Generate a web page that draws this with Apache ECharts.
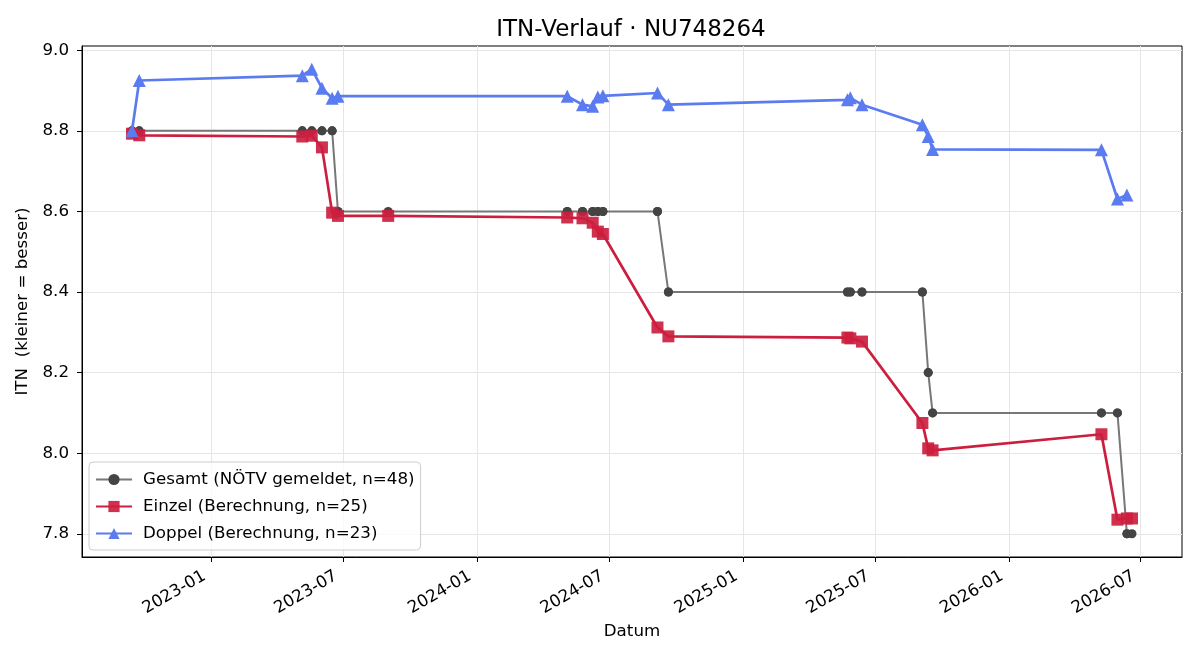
<!DOCTYPE html>
<html>
<head>
<meta charset="utf-8">
<title>ITN-Verlauf</title>
<script src="https://cdn.jsdelivr.net/npm/echarts@6/dist/echarts.min.js"></script>
<style>
    html, body { margin: 0; padding: 0; background: #fff; }
    #itn_chart { width: 1200px; height: 660px; }
</style>
</head>
<body>
<div id="itn_chart"></div>
<script>
let itn_chart = echarts.init(document.getElementById('itn_chart'));

let font = 'DejaVu Sans';

// Gesamt (NÖTV gemeldet)
let gesamt_dates = [
    '2022-09-14', '2022-09-14', '2022-09-24', '2022-09-24', '2023-05-06', '2023-05-06',
    '2023-05-19', '2023-05-19', '2023-06-02', '2023-06-02', '2023-06-16', '2023-06-16',
    '2023-06-24', '2023-06-24', '2023-09-01', '2024-05-04', '2024-05-04', '2024-05-25',
    '2024-05-25', '2024-06-08', '2024-06-08', '2024-06-15', '2024-06-15', '2024-06-22',
    '2024-06-22', '2024-09-05', '2024-09-05', '2024-09-20', '2024-09-20', '2025-05-24',
    '2025-05-24', '2025-05-28', '2025-05-28', '2025-06-13', '2025-06-13', '2025-09-04',
    '2025-09-04', '2025-09-12', '2025-09-12', '2025-09-18', '2025-09-18', '2026-05-08',
    '2026-05-08', '2026-05-30', '2026-05-30', '2026-06-12', '2026-06-12', '2026-06-19'
];
let gesamt_values = [
    8.8, 8.8, 8.8, 8.8, 8.8, 8.8,
    8.8, 8.8, 8.8, 8.8, 8.8, 8.8,
    8.6, 8.6, 8.6, 8.6, 8.6, 8.6,
    8.6, 8.6, 8.6, 8.6, 8.6, 8.6,
    8.6, 8.6, 8.6, 8.4, 8.4, 8.4,
    8.4, 8.4, 8.4, 8.4, 8.4, 8.4,
    8.4, 8.2, 8.2, 8.1, 8.1, 8.1,
    8.1, 8.1, 8.1, 7.8, 7.8, 7.8
];

// Einzel
let einzel_dates = [
    '2022-09-14', '2022-09-24', '2023-05-06', '2023-05-19', '2023-06-02', '2023-06-16',
    '2023-06-24', '2023-09-01', '2024-05-04', '2024-05-25', '2024-06-08', '2024-06-15',
    '2024-06-22', '2024-09-05', '2024-09-20', '2025-05-24', '2025-05-28', '2025-06-13',
    '2025-09-04', '2025-09-12', '2025-09-18', '2026-05-08', '2026-05-30', '2026-06-12',
    '2026-06-19'
];
let einzel_values = [
    8.793, 8.789, 8.786, 8.788, 8.759, 8.597,
    8.589, 8.589, 8.585, 8.583, 8.572, 8.550,
    8.544, 8.312, 8.290, 8.287, 8.285, 8.277,
    8.075, 8.012, 8.007, 8.047, 7.835, 7.838,
    7.838
];

// Doppel
let doppel_dates = [
    '2022-09-14', '2022-09-24', '2023-05-06', '2023-05-19', '2023-06-02', '2023-06-16',
    '2023-06-24', '2024-05-04', '2024-05-25', '2024-06-08', '2024-06-15', '2024-06-22',
    '2024-09-05', '2024-09-20', '2025-05-24', '2025-05-28', '2025-06-13', '2025-09-04',
    '2025-09-12', '2025-09-18', '2026-05-08', '2026-05-30', '2026-06-12'
];
let doppel_values = [
    8.800, 8.925, 8.937, 8.953, 8.906, 8.881,
    8.886, 8.886, 8.865, 8.861, 8.884, 8.887,
    8.894, 8.865, 8.877, 8.882, 8.865, 8.815,
    8.786, 8.754, 8.753, 8.631, 8.641
];

// Achsen
let x_ticks = ['2023-01-01', '2023-07-01', '2024-01-01', '2024-07-01', '2025-01-01', '2025-07-01', '2026-01-01', '2026-07-01'];
let y_ticks = [7.8, 8.0, 8.2, 8.4, 8.6, 8.8, 9.0];

let names = ['Gesamt (NÖTV gemeldet, n=48)', 'Einzel (Berechnung, n=25)', 'Doppel (Berechnung, n=23)'];

function to_time(s) {
    let p = s.split('-');
    return new Date(+p[0], p[1] - 1, +p[2]).getTime();
}

function zip_data(dates, values) {
    return dates.map((d, i) => [to_time(d), values[i]]);
}

// 5% Rand wie matplotlib
let all_times = gesamt_dates.map(to_time);
let t_min = Math.min(...all_times);
let t_max = Math.max(...all_times);
let t_pad = (t_max - t_min) * 0.05;

let all_values = gesamt_values.concat(einzel_values, doppel_values);
let v_min = Math.min(...all_values);
let v_max = Math.max(...all_values);
let v_pad = (v_max - v_min) * 0.05;

let x_tick_values = x_ticks.map(to_time);

let option = {
    animation: false,
    title: {
        text: 'ITN-Verlauf · NU748264',
        left: 626,
        top: 14,
        textAlign: 'center',
        textStyle: {fontFamily: font, fontSize: 23, fontWeight: 'normal', color: '#000'}
    },
    grid: {
        left: 82,
        right: 18,
        top: 46,
        bottom: 103,
        show: true,
        borderColor: '#000',
        borderWidth: 1,
        containLabel: false,
        outerBoundsMode: 'none'
    },
    legend: {
        orient: 'vertical',
        left: 89,
        top: 462,
        padding: [9, 6, 8, 6],
        itemGap: 10,
        itemWidth: 36,
        itemHeight: 14,
        backgroundColor: 'rgba(255,255,255,0.8)',
        borderColor: '#cccccc',
        borderWidth: 1,
        borderRadius: 4,
        textStyle: {fontFamily: font, fontSize: 16.7, color: '#000', padding: [0, 0, 0, 6]},
        data: names
    },
    xAxis: {
        type: 'value',
        min: t_min - t_pad,
        max: t_max + t_pad,
        name: 'Datum',
        nameLocation: 'middle',
        nameGap: 66,
        nameTextStyle: {fontFamily: font, fontSize: 16.7, color: '#000'},
        axisLine: {lineStyle: {color: '#000', width: 1}},
        axisTick: {show: true, length: 5, customValues: x_tick_values, lineStyle: {color: '#000'}},
        axisLabel: {
            customValues: x_tick_values,
            rotate: 30,
            margin: 14,
            padding: [0, 8, 0, 0],
            fontFamily: font,
            fontSize: 16.7,
            color: '#000',
            formatter: function (v) {
                return echarts.time.format(v, '{yyyy}-{MM}', false);
            }
        },
        splitLine: {show: true, lineStyle: {color: '#e6e6e6', width: 1}}
    },
    yAxis: {
        type: 'value',
        min: v_min - v_pad,
        max: v_max + v_pad,
        name: 'ITN  (kleiner = besser)',
        nameLocation: 'middle',
        nameGap: 44,
        nameTextStyle: {fontFamily: font, fontSize: 16.7, color: '#000'},
        axisLine: {show: true, lineStyle: {color: '#000', width: 1}},
        axisTick: {show: true, length: 5, customValues: y_ticks, lineStyle: {color: '#000'}},
        axisLabel: {
            customValues: y_ticks,
            margin: 13,
            fontFamily: font,
            fontSize: 16.7,
            color: '#000',
            formatter: function (v) {
                return v.toFixed(1);
            }
        },
        splitLine: {show: true, lineStyle: {color: '#e6e6e6', width: 1}}
    },
    series: [
        {
            name: names[0],
            type: 'line',
            data: zip_data(gesamt_dates, gesamt_values),
            symbol: 'circle',
            symbolSize: 9,
            showAllSymbol: true,
            lineStyle: {color: '#777777', width: 2},
            itemStyle: {color: '#444444'},
            emphasis: {disabled: true},
            z: 2
        },
        {
            name: names[1],
            type: 'line',
            data: zip_data(einzel_dates, einzel_values),
            symbol: 'rect',
            symbolSize: 12,
            showAllSymbol: true,
            lineStyle: {color: '#cc1f3f', width: 2.7},
            itemStyle: {color: '#cc1f3f', opacity: 0.92},
            emphasis: {disabled: true},
            z: 3
        },
        {
            name: names[2],
            type: 'line',
            data: zip_data(doppel_dates, doppel_values),
            symbol: 'triangle',
            symbolSize: 13,
            showAllSymbol: true,
            lineStyle: {color: '#5b7bf0', width: 2.7},
            itemStyle: {color: '#5b7bf0'},
            emphasis: {disabled: true},
            z: 4
        }
    ]
};

itn_chart.setOption(option);
</script>
</body>
</html>
